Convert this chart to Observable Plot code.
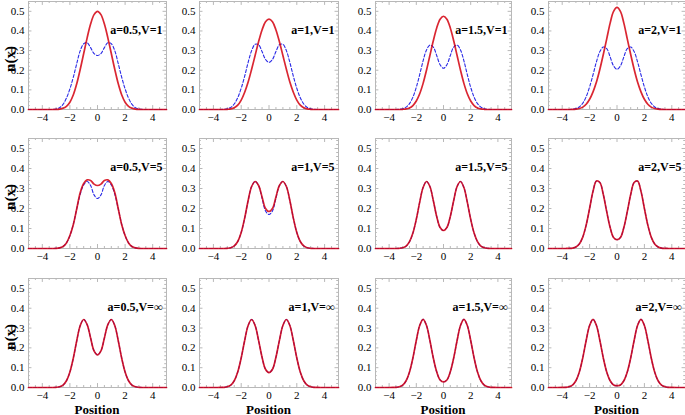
<!DOCTYPE html>
<html><head><meta charset="utf-8">
<script src="https://cdn.jsdelivr.net/npm/d3@7"></script>
<script src="https://cdn.jsdelivr.net/npm/@observablehq/plot@0.6"></script>
<style>
body{margin:0;background:#fff;}
#chart{position:relative;width:685px;height:415px;overflow:hidden;font-family:"Liberation Serif",serif;}
#chart svg{position:absolute;}
.lab{position:absolute;font-weight:bold;font-family:"Liberation Serif",serif;white-space:nowrap;color:#000;line-height:1;}
</style></head><body><div id="chart"></div>
<script>
// Shared x grid (Position)
const xs = [-5,-4.5,-4,-3.75,-3.5,-3.25,-3,-2.75,-2.5,-2.25,-2,-1.75,-1.5,-1.25,-1,-0.75,-0.5,-0.25,0,0.25,0.5,0.75,1,1.25,1.5,1.75,2,2.25,2.5,2.75,3,3.25,3.5,3.75,4,4.5,5];

// Panel parameters
const aValues = ["0.5","1","1.5","2"];
const vValues = ["1","5","\u221e"];

// Row V=1 : red (solid) and blue (dashed)
const red_a05_V1 = [0,0,0,0,0,0,0.0005,0.002,0.006,0.016,0.037,0.075,0.132,0.205,0.285,0.365,0.435,0.483,0.5,0.483,0.435,0.365,0.285,0.205,0.132,0.075,0.037,0.016,0.006,0.002,0.0005,0,0,0,0,0,0];
const blue_a05_V1 = [0,0,0,0,0,0.0007,0.003,0.009,0.026,0.058,0.105,0.165,0.235,0.3,0.335,0.34,0.315,0.285,0.275,0.285,0.315,0.34,0.335,0.3,0.235,0.165,0.105,0.058,0.026,0.009,0.003,0.0007,0,0,0,0,0];
const red_a1_V1 = [0,0,0,0,0,0,0.001,0.003,0.009,0.022,0.048,0.088,0.14,0.205,0.275,0.345,0.405,0.447,0.46,0.447,0.405,0.345,0.275,0.205,0.14,0.088,0.048,0.022,0.009,0.003,0.001,0,0,0,0,0,0];
const blue_a1_V1 = [0,0,0,0,0,0.001,0.004,0.011,0.028,0.06,0.108,0.17,0.24,0.3,0.332,0.33,0.295,0.255,0.24,0.255,0.295,0.33,0.332,0.3,0.24,0.17,0.108,0.06,0.028,0.011,0.004,0.001,0,0,0,0,0];
const red_a15_V1 = [0,0,0,0,0,0,0.001,0.003,0.008,0.02,0.043,0.08,0.133,0.2,0.275,0.35,0.415,0.46,0.475,0.46,0.415,0.35,0.275,0.2,0.133,0.08,0.043,0.02,0.008,0.003,0.001,0,0,0,0,0,0];
const blue_a15_V1 = [0,0,0,0,0,0.001,0.004,0.012,0.03,0.063,0.113,0.178,0.248,0.303,0.328,0.318,0.275,0.228,0.21,0.228,0.275,0.318,0.328,0.303,0.248,0.178,0.113,0.063,0.03,0.012,0.004,0.001,0,0,0,0,0];
const red_a2_V1 = [0,0,0,0,0,0.0005,0.002,0.005,0.012,0.027,0.052,0.09,0.14,0.205,0.28,0.36,0.44,0.5,0.52,0.5,0.44,0.36,0.28,0.205,0.14,0.09,0.052,0.027,0.012,0.005,0.002,0.0005,0,0,0,0,0];
const blue_a2_V1 = [0,0,0,0,0.0003,0.0015,0.005,0.013,0.032,0.065,0.115,0.177,0.243,0.295,0.318,0.31,0.268,0.222,0.205,0.222,0.268,0.31,0.318,0.295,0.243,0.177,0.115,0.065,0.032,0.013,0.005,0.0015,0.0003,0,0,0,0];

// Row V=5
const red_a05_V5 = [0,0,0,0,0,0,0.0005,0.003,0.01,0.028,0.065,0.12,0.2,0.28,0.325,0.343,0.34,0.322,0.315,0.322,0.34,0.343,0.325,0.28,0.2,0.12,0.065,0.028,0.01,0.003,0.0005,0,0,0,0,0,0];
const blue_a05_V5 = [0,0,0,0,0,0,0.0005,0.003,0.01,0.028,0.064,0.122,0.2,0.272,0.318,0.335,0.315,0.268,0.25,0.268,0.315,0.335,0.318,0.272,0.2,0.122,0.064,0.028,0.01,0.003,0.0005,0,0,0,0,0,0];
const red_a1_V5 = [0,0,0,0,0,0,0.001,0.004,0.013,0.035,0.08,0.152,0.24,0.31,0.335,0.315,0.258,0.2,0.185,0.2,0.258,0.315,0.335,0.31,0.24,0.152,0.08,0.035,0.013,0.004,0.001,0,0,0,0,0,0];
const blue_a1_V5 = [0,0,0,0,0,0,0.001,0.004,0.013,0.035,0.08,0.152,0.24,0.31,0.335,0.315,0.252,0.188,0.17,0.188,0.252,0.315,0.335,0.31,0.24,0.152,0.08,0.035,0.013,0.004,0.001,0,0,0,0,0,0];
const red_a15_V5 = [0,0,0,0,0,0.001,0.004,0.012,0.034,0.077,0.146,0.232,0.305,0.335,0.31,0.24,0.16,0.105,0.09,0.105,0.16,0.24,0.31,0.335,0.305,0.232,0.146,0.077,0.034,0.012,0.004,0.001,0,0,0,0,0];
const blue_a15_V5 = red_a15_V5;
const red_a2_V5 = [0,0,0,0.0001,0.0005,0.002,0.008,0.023,0.057,0.117,0.2,0.286,0.337,0.33,0.27,0.184,0.105,0.055,0.044,0.055,0.105,0.184,0.27,0.33,0.337,0.286,0.2,0.117,0.057,0.023,0.008,0.002,0.0005,0.0001,0,0,0];
const blue_a2_V5 = red_a2_V5;

// Row V=infinity
const red_a05_Vinf = [0,0,0,0,0,0,0.0009,0.0036,0.012,0.034,0.078,0.149,0.237,0.313,0.343,0.317,0.25,0.185,0.165,0.185,0.25,0.317,0.343,0.313,0.237,0.149,0.078,0.034,0.012,0.0036,0.0009,0,0,0,0,0,0];
const blue_a05_Vinf = red_a05_Vinf;
const red_a1_Vinf = [0,0,0,0,0.0002,0.0009,0.0036,0.012,0.034,0.078,0.149,0.237,0.313,0.343,0.313,0.238,0.153,0.092,0.075,0.092,0.153,0.238,0.313,0.343,0.313,0.237,0.149,0.078,0.034,0.012,0.0036,0.0009,0.0002,0,0,0,0];
const blue_a1_Vinf = red_a1_Vinf;
const red_a15_Vinf = [0,0,0,0.0002,0.0009,0.0036,0.012,0.034,0.078,0.149,0.237,0.313,0.344,0.313,0.237,0.149,0.079,0.038,0.028,0.038,0.079,0.149,0.237,0.313,0.344,0.313,0.237,0.149,0.078,0.034,0.012,0.0036,0.0009,0.0002,0,0,0];
const blue_a15_Vinf = red_a15_Vinf;
const red_a2_Vinf = [0,0,0.0002,0.0009,0.0036,0.012,0.034,0.078,0.149,0.237,0.313,0.344,0.313,0.237,0.149,0.078,0.034,0.013,0.009,0.013,0.034,0.078,0.149,0.237,0.313,0.344,0.313,0.237,0.149,0.078,0.034,0.012,0.0036,0.0009,0.0002,0,0];
const blue_a2_Vinf = red_a2_Vinf;

const redRows = [
  [red_a05_V1, red_a1_V1, red_a15_V1, red_a2_V1],
  [red_a05_V5, red_a1_V5, red_a15_V5, red_a2_V5],
  [red_a05_Vinf, red_a1_Vinf, red_a15_Vinf, red_a2_Vinf]
];
const blueRows = [
  [blue_a05_V1, blue_a1_V1, blue_a15_V1, blue_a2_V1],
  [blue_a05_V5, blue_a1_V5, blue_a15_V5, blue_a2_V5],
  [blue_a05_Vinf, blue_a1_Vinf, blue_a15_Vinf, blue_a2_Vinf]
];

// Axis ticks
const xTicks = [-4,-2,0,2,4];
const xMinor = [-4.5,-3.5,-3,-2.5,-1.5,-1,-0.5,0.5,1,1.5,2.5,3,3.5,4.5];
const yTicks = [0,0.1,0.2,0.3,0.4,0.5];
const yMinor = d3.range(1,28).map(i => i*0.02).filter(v => Math.abs(v*10 - Math.round(v*10)) > 1e-6);

// Layout (pixel boxes of each panel's plot area)
const colLeft = [28,199,375,548], colRight = [166,338,511,685];
const rowTop = [1,138,278], rowBottom = [109,248,387];
const mL = 32, mR = 1, mT = 2, mB = 22;

const chart = document.getElementById("chart");
const fmtX = d => d < 0 ? "\u2212" + Math.abs(d) : String(d);
const frameColor = "#b8b8b8";

for (let r = 0; r < 3; r++) {
  for (let c = 0; c < 4; c++) {
    const data = xs.map((x, i) => ({x, red: redRows[r][c][i], blue: blueRows[r][c][i]}));
    const w = colRight[c] - colLeft[c], h = rowBottom[r] - rowTop[r];
    const label = `a=${aValues[c]},V=${vValues[r]}`;
    const p = Plot.plot({
      width: w + mL + mR, height: h + mT + mB,
      marginLeft: mL, marginRight: mR, marginTop: mT, marginBottom: mB,
      style: {fontFamily: '"Liberation Serif", serif', fontSize: "11px", color: "#000", background: "transparent", overflow: "visible"},
      x: {domain: [-5, 5]},
      y: {domain: [0, 0.55]},
      marks: [
        Plot.frame({stroke: frameColor, strokeWidth: 1}),
        Plot.ruleX(xTicks, {x: d => d, y1: 0, y2: 0.02, stroke: frameColor}),
        Plot.ruleX(xMinor, {x: d => d, y1: 0, y2: 0.01, stroke: frameColor}),
        Plot.ruleX(xTicks, {x: d => d, y1: 0.55, y2: 0.53, stroke: frameColor}),
        Plot.ruleX(xMinor, {x: d => d, y1: 0.55, y2: 0.54, stroke: frameColor}),
        Plot.ruleY(yTicks, {y: d => d, x1: -5, x2: -4.75, stroke: frameColor}),
        Plot.ruleY(yMinor, {y: d => d, x1: -5, x2: -4.87, stroke: frameColor}),
        Plot.ruleY(yTicks, {y: d => d, x1: 5, x2: 4.75, stroke: frameColor}),
        Plot.ruleY(yMinor, {y: d => d, x1: 5, x2: 4.87, stroke: frameColor}),
        Plot.axisX({ticks: xTicks, tickSize: 0, tickPadding: 4, tickFormat: fmtX, label: null}),
        Plot.axisY({ticks: yTicks, tickSize: 0, tickPadding: 4, tickFormat: d3.format(".1f"), label: null}),
        Plot.line(data, {x: "x", y: "blue", stroke: "#2a2ae6", strokeWidth: 1.1, strokeDasharray: "3,2", curve: "catmull-rom"}),
        Plot.line(data, {x: "x", y: "red", stroke: "#d4000e", strokeWidth: 1.7, strokeOpacity: 0.85, curve: "catmull-rom"}),
        Plot.text([label], {x: 5, y: 0.405, text: d => d, textAnchor: "end", dx: -4, fontWeight: "bold", fontSize: 12, fill: "#000"})
      ]
    });
    p.style.left = (colLeft[c] - mL) + "px";
    p.style.top = (rowTop[r] - mT) + "px";
    chart.appendChild(p);
  }
}

// Axis titles
for (let r = 0; r < 3; r++) {
  const d = document.createElement("div");
  d.className = "lab";
  d.textContent = "n(x)";
  d.style.fontSize = "15px";
  const cy = (rowTop[r] + rowBottom[r]) / 2 + 4;
  d.style.left = "10px";
  d.style.top = cy + "px";
  d.style.transform = "translate(-50%,-50%) rotate(-90deg)";
  chart.appendChild(d);
}
for (let c = 0; c < 4; c++) {
  const d = document.createElement("div");
  d.className = "lab";
  d.textContent = "Position";
  d.style.fontSize = "13px";
  d.style.left = ((colLeft[c] + colRight[c]) / 2) + "px";
  d.style.top = "409px";
  d.style.transform = "translate(-50%,-50%)";
  chart.appendChild(d);
}
</script>
</body></html>
